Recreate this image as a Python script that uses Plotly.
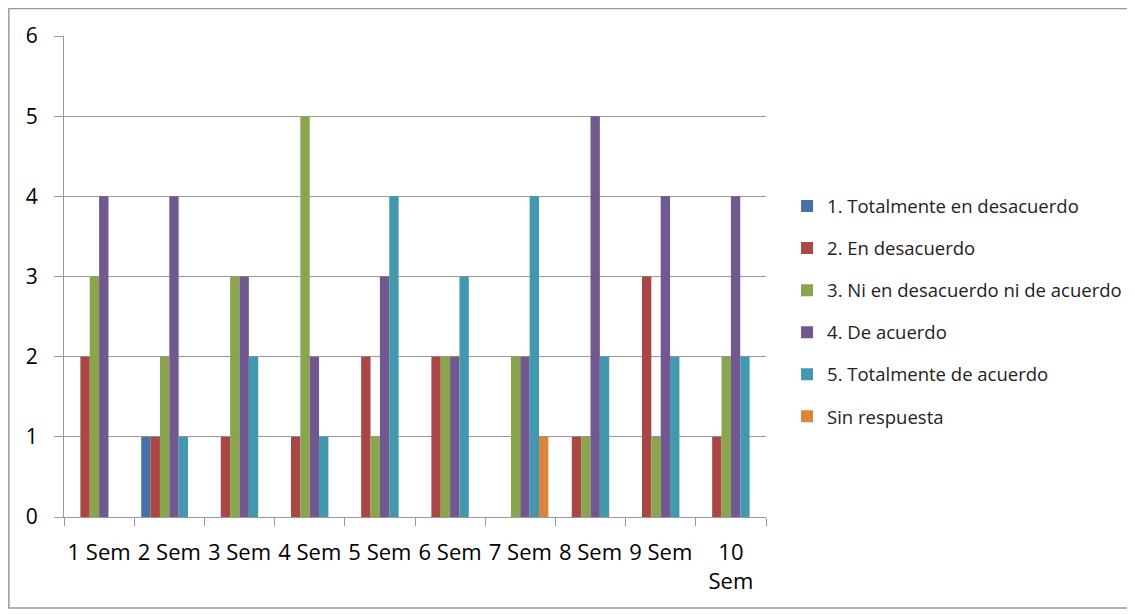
import plotly.graph_objects as go

# Data.
semesters = ["1 Sem", "2 Sem", "3 Sem", "4 Sem", "5 Sem", "6 Sem", "7 Sem", "8 Sem", "9 Sem", "10 Sem"]
tick_text = ["1 Sem", "2 Sem", "3 Sem", "4 Sem", "5 Sem", "6 Sem", "7 Sem", "8 Sem", "9 Sem", "10<br>Sem"]

totalmente_desacuerdo = [0, 1, 0, 0, 0, 0, 0, 0, 0, 0]
en_desacuerdo = [2, 1, 1, 1, 2, 2, 0, 1, 3, 1]
ni_ni = [3, 2, 3, 5, 1, 2, 2, 1, 1, 2]
de_acuerdo = [4, 4, 3, 2, 3, 2, 2, 5, 4, 4]
totalmente_acuerdo = [0, 1, 2, 1, 4, 3, 4, 2, 2, 2]
sin_respuesta = [0, 0, 0, 0, 0, 0, 1, 0, 0, 0]

series = [
    ("1. Totalmente en desacuerdo", totalmente_desacuerdo, "#4572A7"),
    ("2. En desacuerdo", en_desacuerdo, "#AA4643"),
    ("3. Ni en desacuerdo ni de acuerdo", ni_ni, "#89A54E"),
    ("4. De acuerdo", de_acuerdo, "#71588F"),
    ("5. Totalmente de acuerdo", totalmente_acuerdo, "#4198AF"),
    ("Sin respuesta", sin_respuesta, "#DB843D"),
]

fig = go.Figure()
for i, (name, vals, color) in enumerate(series):
    fig.add_trace(go.Bar(x=semesters, y=vals, name=name, marker_color=color,
                         marker_line_width=0, legendgroup=str(i)))

font = "'Open Sans', sans-serif"
# the page body adds an 8px offset, so the figure is 8px smaller than the window
fig.update_layout(
    width=1127, height=607,
    margin=dict(l=56, r=369, t=28, b=98, autoexpand=False),
    paper_bgcolor="white", plot_bgcolor="white",
    barmode="group", bargap=0.2, bargroupgap=0,
    font=dict(family=font, color="#000000"),
    legend=dict(x=1.03, y=0.685, xanchor="left", yanchor="top",
                font=dict(size=18.5, color="#222"), tracegroupgap=15,
                bgcolor="rgba(0,0,0,0)"),
    showlegend=True,
)
fig.update_xaxes(tickvals=semesters, ticktext=tick_text, tickson="boundaries",
                 ticks="outside", ticklen=8, tickcolor="#999", tickangle=0,
                 showline=True, linecolor="#999", linewidth=1, automargin=False,
                 showgrid=False, tickfont=dict(size=22), ticklabelstandoff=16)
fig.update_yaxes(range=[0, 6], dtick=1, ticks="outside", ticklen=9, tickcolor="#999",
                 showline=True, linecolor="#999", linewidth=1, automargin=False,
                 showgrid=True, gridcolor="#999", gridwidth=1,
                 tickfont=dict(size=21), zeroline=False, ticklabelstandoff=12)

# Outer chart frame.
fig.add_shape(type="rect", xref="paper", yref="paper",
              x0=-0.0785, x1=1.5157, y0=-0.189, y1=1.057,
              line=dict(color="#999", width=1.5), fillcolor="rgba(0,0,0,0)")

fig.write_html("out.html")
